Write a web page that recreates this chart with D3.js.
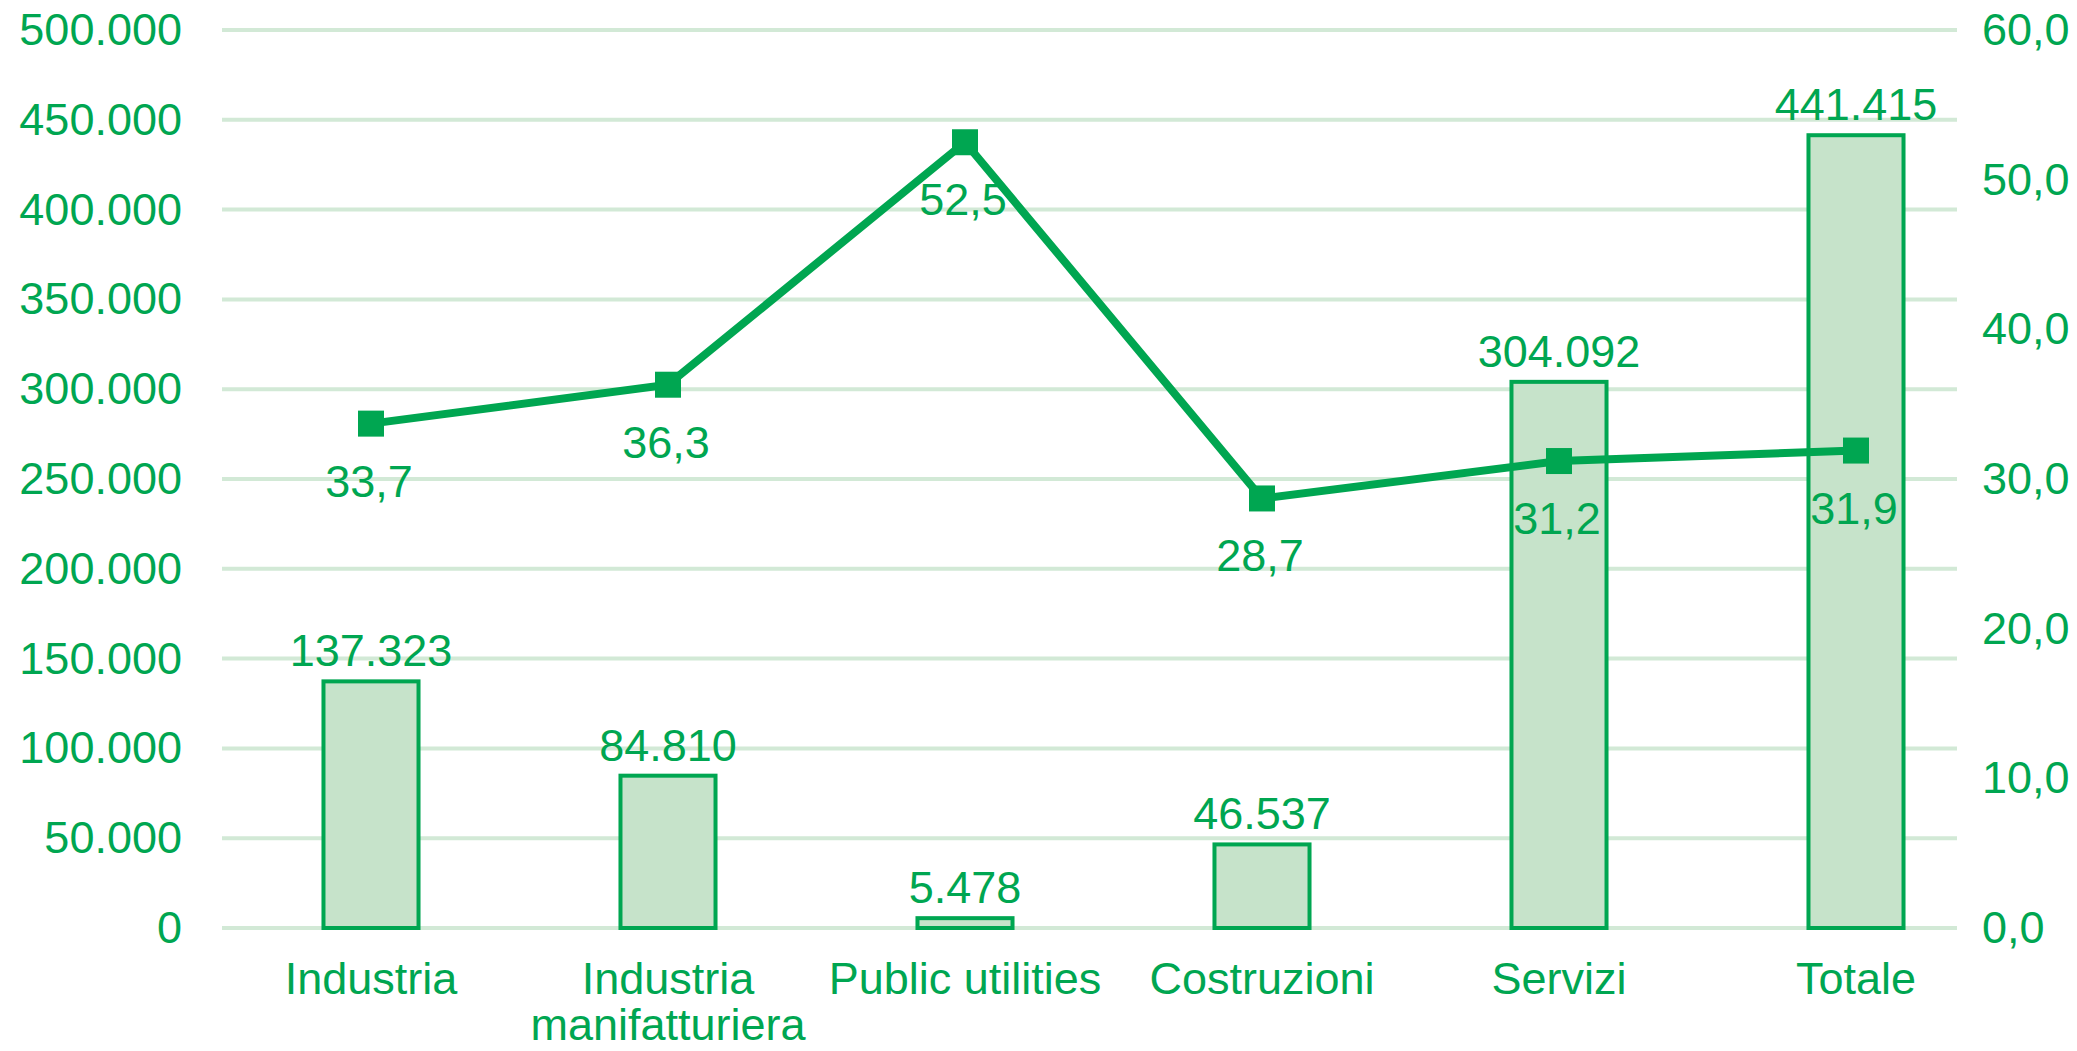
<!DOCTYPE html>
<html>
<head>
<meta charset="utf-8">
<script src="https://cdn.jsdelivr.net/npm/d3@7"></script>
<style>
  body { margin: 0; background: #ffffff; }
  text { font-family: "Liberation Sans", Arial, sans-serif; }
</style>
</head>
<body>
<svg id="chart"></svg>
<script>
// data
var categories = [["Industria"], ["Industria", "manifatturiera"], ["Public utilities"], ["Costruzioni"], ["Servizi"], ["Totale"]]
var occupati = [137323, 84810, 5478, 46537, 304092, 441415]
var quota = [33.7, 36.3, 52.5, 28.7, 31.2, 31.9]
var leftTicks = [0, 50000, 100000, 150000, 200000, 250000, 300000, 350000, 400000, 450000, 500000]
var rightTicks = [0, 10, 20, 30, 40, 50, 60]

var dimensions = {
    width: 2077,
    height: 1051,
    plotTop: 30,
    plotBottom: 928,
    gridLeft: 222,
    gridRight: 1957,
    bandLeft: 222.5,
    bandRight: 2004.5,
    fontSize: "45px"
}

var green = "#00a651"
var lightGreen = "#c6e3ca"
var gridColor = "#d2e9d6"

var it = d3.formatLocale({decimal: ",", thousands: ".", grouping: [3], currency: ["€", ""]})
var fmtInt = it.format(",.0f")
var fmtDec = it.format(",.1f")

var svg = d3.select("#chart")
            .attr("width", dimensions.width)
            .attr("height", dimensions.height)

var keys = categories.map(c => c.join(" "))

var xScale = d3.scaleBand()
        .domain(keys)
        .range([dimensions.bandLeft, dimensions.bandRight])

var yLeft = d3.scaleLinear()
        .domain([0, 500000])
        .range([dimensions.plotBottom, dimensions.plotTop])

var yRight = d3.scaleLinear()
        .domain([0, 60])
        .range([dimensions.plotBottom, dimensions.plotTop])

var cx = (d, i) => xScale(keys[i]) + xScale.bandwidth() / 2

// gridlines
svg.append("g")
    .selectAll("line")
    .data(leftTicks)
    .enter()
    .append("line")
    .attr("x1", dimensions.gridLeft)
    .attr("x2", dimensions.gridRight)
    .attr("y1", d => yLeft(d))
    .attr("y2", d => yLeft(d))
    .attr("stroke", gridColor)
    .attr("stroke-width", 4)

// left axis
var leftAxis = svg.append("g")
    .attr("transform", `translate(${182},0)`)
    .call(d3.axisLeft(yLeft).tickValues(leftTicks).tickFormat(fmtInt).tickSize(0).tickPadding(0))
leftAxis.select(".domain").remove()
leftAxis.selectAll("text")
    .attr("fill", green)
    .style("font-size", dimensions.fontSize)
    .style("font-family", "'Liberation Sans', Arial, sans-serif")

// right axis
var rightAxis = svg.append("g")
    .attr("transform", `translate(${1982},0)`)
    .call(d3.axisRight(yRight).tickValues(rightTicks).tickFormat(fmtDec).tickSize(0).tickPadding(0))
rightAxis.select(".domain").remove()
rightAxis.selectAll("text")
    .attr("fill", green)
    .style("font-size", dimensions.fontSize)
    .style("font-family", "'Liberation Sans', Arial, sans-serif")

// bars
var barWidth = xScale.bandwidth() * 0.32
svg.append("g")
    .selectAll("rect")
    .data(occupati)
    .enter()
    .append("rect")
    .attr("x", (d, i) => cx(d, i) - barWidth / 2)
    .attr("y", d => yLeft(d))
    .attr("width", barWidth)
    .attr("height", d => yLeft(0) - yLeft(d))
    .attr("fill", lightGreen)
    .attr("stroke", green)
    .attr("stroke-width", 4)

// bar labels
svg.append("g")
    .selectAll("text")
    .data(occupati)
    .enter()
    .append("text")
    .attr("x", cx)
    .attr("y", d => yLeft(d) - 15)
    .attr("text-anchor", "middle")
    .attr("fill", green)
    .style("font-size", dimensions.fontSize)
    .text(d => fmtInt(d))

// line
var line = d3.line()
    .x(cx)
    .y(d => yRight(d))

svg.append("path")
    .datum(quota)
    .attr("d", line)
    .attr("fill", "none")
    .attr("stroke", green)
    .attr("stroke-width", 8)

svg.append("g")
    .selectAll("rect")
    .data(quota)
    .enter()
    .append("rect")
    .attr("x", (d, i) => cx(d, i) - 13)
    .attr("y", d => yRight(d) - 13)
    .attr("width", 26)
    .attr("height", 26)
    .attr("fill", green)

// line labels
svg.append("g")
    .selectAll("text")
    .data(quota)
    .enter()
    .append("text")
    .attr("x", (d, i) => cx(d, i) - 2)
    .attr("y", d => yRight(d) + 73)
    .attr("text-anchor", "middle")
    .attr("fill", green)
    .style("font-size", dimensions.fontSize)
    .text(d => fmtDec(d))

// category labels
var xLabels = svg.append("g")
    .selectAll("text")
    .data(categories)
    .enter()
    .append("text")
    .attr("text-anchor", "middle")
    .attr("fill", green)
    .style("font-size", dimensions.fontSize)

xLabels.selectAll("tspan")
    .data((d, i) => d.map(t => ({t: t, i: i})))
    .enter()
    .append("tspan")
    .attr("x", d => cx(null, d.i))
    .attr("y", (d, j) => 994 + j * 46)
    .text(d => d.t)
</script>
</body>
</html>
